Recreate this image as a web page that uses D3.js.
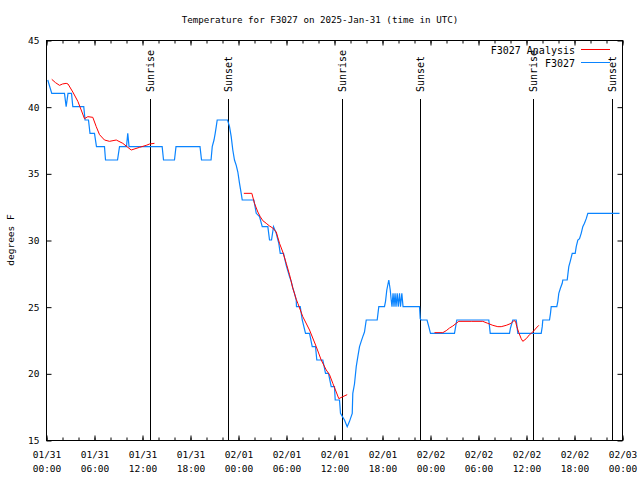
<!DOCTYPE html>
<html>
<head>
<meta charset="utf-8">
<script src="https://cdn.jsdelivr.net/npm/d3@7"></script>
<style>
  html, body { margin: 0; padding: 0; background: #fff; }
  svg { display: block; }
  text { font-family: "DejaVu Sans Mono", monospace; fill: #000; }
</style>
</head>
<body>
<svg id="chart" width="640" height="480"></svg>
<script>
// ---------------- data ----------------
const title = "Temperature for F3027 on 2025-Jan-31 (time in UTC)";
const yLabel = "degrees F";
const seriesNames = ["F3027 Analysis", "F3027"];
const seriesColors = ["#ff0000", "#0a84ff"];
const yTicks = [15, 20, 25, 30, 35, 40, 45];

// hours since 2025-01-31 00:00 UTC
const obsHours = [0.22,0.72,2.31,2.52,2.75,3.19,3.35,4.72,4.88,5.31,5.5,6.06,6.31,7.31,7.44,8.94,9.19,10.06,10.22,10.38,
  14.52,14.69,16.06,16.25,19.25,19.44,20.63,20.78,21.0,21.15,21.28,21.4,22.69,
  22.94,23.15,23.35,23.56,23.78,23.98,24.19,24.4,24.53,25.98,26.06,26.28,26.69,27.03,27.73,27.94,28.19,28.44,28.78,
  29.1,29.28,29.69,30.03,30.44,30.65,30.85,31.06,31.28,31.31,31.78,32.03,32.44,32.94,33.28,33.69,33.85,34.6,34.94,
  35.31,35.65,36.06,36.15,36.69,36.81,37.31,37.65,37.94,38.28,38.35,38.56,38.78,38.98,39.19,39.4,39.6,39.81,40.03,
  41.4,41.6,42.31,42.44,42.6,42.85,43.03,43.15,43.25,43.38,43.5,43.63,43.75,43.9,44.03,44.19,44.31,44.48,44.63,
  46.69,46.78,46.9,47.63,47.85,48.06,51.06,51.35,55.35,55.53,57.94,58.06,58.35,58.78,58.98,61.9,62.03,62.1,62.94,
  63.06,63.15,63.85,63.98,64.1,64.31,64.53,64.6,65.15,65.23,65.35,65.53,65.78,66.15,66.28,66.48,66.69,66.9,67.1,
  67.31,67.53,67.73,71.69];
const obsTemps = [42,41,41,40,41,41,40,40,39,39,38,38,37,37,36,36,37,37,38,37,
  37,36,36,37,37,36,36,37,37.5,38,38.5,39,39,
  38.5,37.75,36.75,36,35.6,35.1,34.25,33.5,33,33,32.75,32,31.75,31,31,30,30,31,30.5,
  29.75,29,29,28.1,27.25,26.9,26.4,26,25.5,25,25,24,23,23,22,22,21,21,20,
  20,19,19,18,18,17,16.5,16,16.4,17,18.5,19.2,20.5,21.25,22,22.4,22.75,23.1,24,
  24,25,25,25.4,26.25,27,26.25,25.5,25,26,25,26,25,26,25,26,25,26,25,
  25,24.1,24,24,23.5,23,23,24,24,23,23,23.4,24,24,23,23,23.5,24,24,
  24.5,25,25,25.4,26,26.4,26.75,27,27,27.4,28,28.4,29,29,29.5,30,30.1,30.5,31,
  31.25,31.6,32,32];

// analysis (null = gap)
const anaHours = [0.72,1.19,1.69,2.06,2.52,2.75,3.35,3.98,4.4,4.81,5.23,5.85,6.28,6.69,7.31,7.94,8.78,9.6,10.65,11.69,12.53,12.94,13.56,
  null,
  24.73,25.73,26.06,26.48,26.78,27.1,27.53,27.94,28.35,28.78,29.19,29.6,30.03,30.44,30.85,31.28,31.48,32.1,32.94,33.78,34.4,35.03,35.44,35.85,36.28,36.6,37.1,37.65,
  null,
  48.56,49.6,50.03,50.44,50.85,51.28,51.6,53.15,54.6,55.22,55.85,56.48,56.9,57.53,58.15,58.48,58.69,58.85,59.1,59.4,59.6,60.03,60.44,60.85,61.28,61.6];
const anaTemps = [42.05,41.8,41.6,41.7,41.75,41.7,41.1,40.4,39.75,39.1,39.25,39.2,38.5,37.9,37.5,37.4,37.5,37.25,36.75,36.95,37.1,37.2,37.25,
  null,
  33.5,33.5,32.75,32.1,31.75,31.45,31.25,31.05,30.9,30.6,29.75,29.1,28.25,27.4,26.4,25.55,25.25,24.25,23.25,22,21,20.25,19.9,19.25,18.6,18.1,18.25,18.4,
  null,
  23.05,23.05,23.2,23.4,23.55,23.75,23.9,23.9,23.9,23.75,23.6,23.5,23.5,23.6,23.75,23.95,23.9,23.5,23.05,22.6,22.4,22.6,22.9,23.1,23.4,23.6];

const sunEvents = ["Sunrise","Sunset","Sunrise","Sunset","Sunrise","Sunset"];
const sunHours = [12.95, 22.72, 37.05, 46.73, 60.9, 70.75];

// ---------------- chart ----------------
const base = Date.UTC(2025, 0, 31, 0, 0, 0);
const toDate = h => new Date(base + h * 3600e3);

const L = 46, R = 622, T = 40, B = 440;
const svg = d3.select("#chart");

const x = d3.scaleUtc().domain([toDate(0), toDate(72)]).range([L, R]);
const y = d3.scaleLinear().domain([15, 45]).range([B, T]);

// title
svg.append("text").attr("x", 320).attr("y", 23).attr("text-anchor", "middle")
  .style("font-size", "9.2px").text(title);

// y label
svg.append("text").attr("transform", "translate(14,240) rotate(-90)")
  .attr("text-anchor", "middle").style("font-size", "9.5px").text(yLabel);

// sun lines
const sunG = svg.append("g");
sunHours.forEach((h, i) => {
  const xp = Math.round(x(toDate(h))) + 0.5;
  sunG.append("line").attr("x1", xp).attr("x2", xp).attr("y1", 99).attr("y2", B)
    .attr("stroke", "#000").attr("stroke-width", 1);
  sunG.append("text").attr("transform", `translate(${xp},92) rotate(-90)`)
    .attr("text-anchor", "start").attr("dy", "0.35em")
    .style("font-size", "10px").text(sunEvents[i]);
});

// axes
const fmtDay = d3.utcFormat("%m/%d"), fmtTime = d3.utcFormat("%H:%M");
const major = d3.utcHour.every(6), minor = d3.utcHour.every(2);

const xb = svg.append("g").attr("transform", `translate(0.5,${B + 0.5})`)
  .call(d3.axisBottom(x).ticks(major).tickSize(-5).tickPadding(8).tickFormat(""));
xb.selectAll(".tick").each(function(d) {
  const t = d3.select(this).append("text").attr("fill", "#000")
    .attr("text-anchor", "middle").style("font-size", "9.5px");
  t.append("tspan").attr("x", 0).attr("y", 17).text(fmtDay(d));
  t.append("tspan").attr("x", 0).attr("y", 31).text(fmtTime(d));
});
svg.append("g").attr("transform", `translate(0.5,${B + 0.5})`)
  .call(d3.axisBottom(x).ticks(minor).tickSize(-3).tickFormat(""));
svg.append("g").attr("transform", `translate(0.5,${T + 0.5})`)
  .call(d3.axisTop(x).ticks(major).tickSize(-5).tickFormat(""));
svg.append("g").attr("transform", `translate(0.5,${T + 0.5})`)
  .call(d3.axisTop(x).ticks(minor).tickSize(-3).tickFormat(""));

const yl = svg.append("g").attr("transform", `translate(${L + 0.5},0.5)`)
  .call(d3.axisLeft(y).tickValues(yTicks).tickSize(-5).tickPadding(7).tickFormat(d3.format("d")));
yl.selectAll("text").style("font-size", "9.5px").attr("fill", "#000");
svg.append("g").attr("transform", `translate(${R + 0.5},0.5)`)
  .call(d3.axisRight(y).tickValues(yTicks).tickSize(-5).tickFormat(""));

svg.selectAll(".domain").remove();
svg.selectAll(".tick line").attr("stroke", "#000");

// frame
svg.append("rect").attr("x", L + 0.5).attr("y", T + 0.5).attr("width", R - L).attr("height", B - T)
  .attr("fill", "none").attr("stroke", "#000").attr("stroke-width", 1);

// series
const obs = obsHours.map((h, i) => ({ d: toDate(h), v: obsTemps[i] }));
const ana = anaHours.map((h, i) => ({ d: h == null ? null : toDate(h), v: anaTemps[i] }));
const line = d3.line().defined(p => p.v != null && p.d != null)
  .x(p => x(p.d)).y(p => y(p.v));

svg.append("path").datum(obs).attr("d", line).attr("fill", "none")
  .attr("stroke", seriesColors[1]).attr("stroke-width", 1.2);
svg.append("path").datum(ana).attr("d", line).attr("fill", "none")
  .attr("stroke", seriesColors[0]).attr("stroke-width", 1);

// legend
const legY = [50, 63];
seriesNames.forEach((n, i) => {
  svg.append("text").attr("x", 575).attr("y", legY[i]).attr("dy", "0.35em")
    .attr("text-anchor", "end").style("font-size", "10px").text(n);
  svg.append("line").attr("x1", 581).attr("x2", 610).attr("y1", legY[i] - 0.5).attr("y2", legY[i] - 0.5)
    .attr("stroke", seriesColors[i]).attr("stroke-width", 1);
});
</script>
</body>
</html>
